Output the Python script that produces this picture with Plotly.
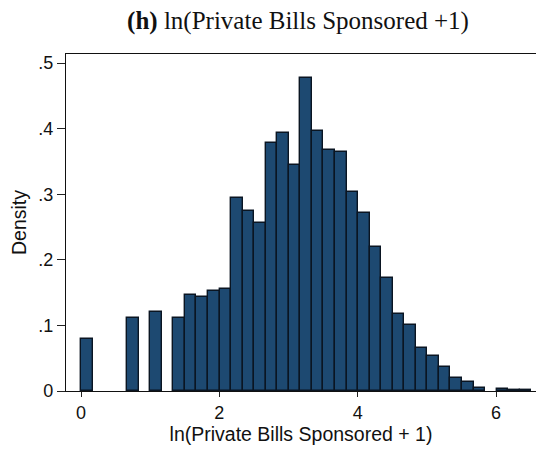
import plotly.graph_objects as go

# Histogram of ln(private bills sponsored + 1), density scale
bin_start = 0.0
bin_width = 0.1669
density = [
    0.080, 0.000, 0.000, 0.000, 0.111, 0.000, 0.120, 0.000, 0.111, 0.147,
    0.143, 0.152, 0.156, 0.295, 0.275, 0.256, 0.379, 0.394, 0.345, 0.477,
    0.396, 0.367, 0.364, 0.304, 0.271, 0.219, 0.173, 0.117, 0.100, 0.065,
    0.053, 0.036, 0.020, 0.013, 0.005, 0.000, 0.003, 0.001, 0.001,
]
x_ticks = [0, 2, 4, 6]
y_ticks = [0, 0.1, 0.2, 0.3, 0.4, 0.5]
y_tick_labels = ["0", ".1", ".2", ".3", ".4", ".5"]

# empty bins are not drawn
centers = [bin_start + (i + 0.5) * bin_width for i, d in enumerate(density) if d > 0]
heights = [d for d in density if d > 0]

fig = go.Figure(
    go.Bar(
        x=centers,
        y=heights,
        width=bin_width,
        marker=dict(color="#1d4971", line=dict(color="#0a1522", width=1.4)),
    )
)

tick_font = dict(family="Liberation Sans, Arial, sans-serif", size=18, color="#111")
title_font = dict(family="Liberation Sans, Arial, sans-serif", size=19.5, color="#111")

fig.update_layout(
    width=536,
    height=449,
    margin=dict(l=66, r=0, t=54, b=58),
    paper_bgcolor="white",
    plot_bgcolor="white",
    bargap=0,
    showlegend=False,
    title=dict(
        text="<b>(h)</b> ln(Private Bills Sponsored +1)",
        x=0.556,
        xanchor="center",
        y=0.955,
        yanchor="middle",
        font=dict(family="Liberation Serif, Times New Roman, serif", size=25, color="#111"),
    ),
    font=tick_font,
)

fig.update_xaxes(
    range=[-0.217, 6.578],
    tickvals=x_ticks,
    ticktext=[str(v) for v in x_ticks],
    ticks="outside",
    ticklen=5,
    tickwidth=1,
    tickcolor="#222",
    showline=True,
    linecolor="#111",
    linewidth=1.3,
    mirror=True,
    showgrid=False,
    zeroline=False,
    tickfont=tick_font,
    title=dict(text="ln(Private Bills Sponsored + 1)", font=title_font, standoff=2),
)

fig.update_yaxes(
    range=[0, 0.514],
    tickvals=y_ticks,
    ticktext=y_tick_labels,
    ticks="outside",
    ticklen=8,
    tickwidth=1,
    tickcolor="#222",
    showline=True,
    linecolor="#111",
    linewidth=1.3,
    showgrid=False,
    zeroline=False,
    tickfont=tick_font,
    title=dict(text="Density", font=title_font, standoff=6),
)

fig.write_html("out.html")
